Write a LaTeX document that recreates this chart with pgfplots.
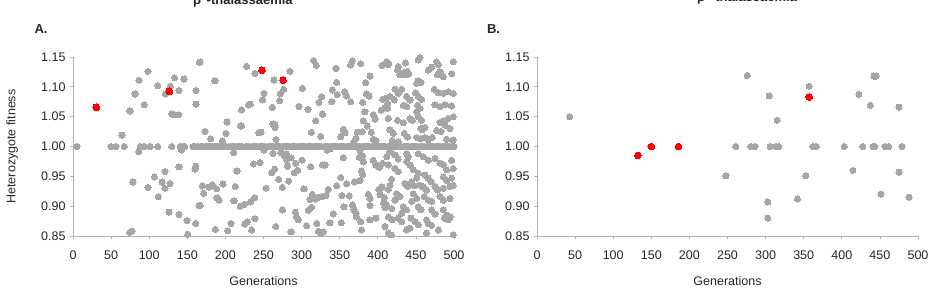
\documentclass[border=0pt]{standalone}
\usepackage{pgfplots}
\pgfplotsset{compat=1.18}
\usepackage{fontspec}
\setmainfont{Liberation Sans}
\definecolor{dotgray}{HTML}{A6A6A6}
\definecolor{axgray}{HTML}{B0B0B0}
\definecolor{txt}{HTML}{262626}
\pgfplotsset{
  panel/.style={
    scale only axis, width=381pt, height=179pt,
    xmin=0, xmax=500, ymin=0.85, ymax=1.15,
    axis x line*=bottom, axis y line*=left,
    axis line style={-, draw=axgray, line width=0.8pt},
    xtick={0,50,100,150,200,250,300,350,400,450,500},
    ytick={0.85,0.90,0.95,1.00,1.05,1.10,1.15},
    tick align=outside, major tick length=3pt,
    tick style={draw=axgray, line width=0.8pt},
    yticklabel style={/pgf/number format/fixed, /pgf/number format/fixed zerofill, /pgf/number format/precision=2, xshift=-1pt},
    /pgf/number format/assume math mode=true,
    tick label style={font=\fontsize{12.5}{15}\selectfont, text=txt},
    xticklabel style={yshift=-8.5pt},
    label style={font=\fontsize{12.5}{15}\selectfont, text=txt},
    xlabel={Generations},
    xlabel style={at={(axis description cs:0.5,-0.250)}, anchor=center},
    clip=false,
  },
  gdot/.style={only marks, color=dotgray, mark=*, mark size=3.1pt, mark options={draw=dotgray, fill=dotgray, line width=0pt}},
  rdot/.style={only marks, color=red, mark=*, mark size=3.4pt, mark options={draw=red, fill=red, line width=0pt}},
}
\begin{document}
\begin{tikzpicture}
\useasboundingbox (0pt,0pt) rectangle (937pt,292pt);
\begin{axis}[panel, at={(73pt,56pt)}, anchor=south west,
  ylabel={Heterozygote fitness},
  ylabel style={at={(axis description cs:-0.160,0.5)}, anchor=center}]
% band at 1.00
\addplot[gdot] coordinates {
(168,1.00)(171,1.00)(174,1.00)(177,1.00)(180,1.00)(183,1.00)(186,1.00)(189,1.00)(192,1.00)(195,1.00)
(198,1.00)(201,1.00)(204,1.00)(207,1.00)(210,1.00)(213,1.00)(216,1.00)(219,1.00)(222,1.00)
(227,1.00)(230,1.00)(233,1.00)(236,1.00)(239,1.00)(242,1.00)(245,1.00)(248,1.00)(251,1.00)(254,1.00)
(257,1.00)(260,1.00)(263,1.00)(266,1.00)(269,1.00)(272,1.00)(275,1.00)(278,1.00)(281,1.00)(284,1.00)
(287,1.00)(290,1.00)(293,1.00)(296,1.00)(299,1.00)(302,1.00)(305,1.00)(308,1.00)(311,1.00)(314,1.00)
(317,1.00)(320,1.00)(323,1.00)(326,1.00)(329,1.00)(332,1.00)(335,1.00)(338,1.00)(341,1.00)(344,1.00)
(347,1.00)(350,1.00)(353,1.00)(356,1.00)(359,1.00)(362,1.00)(365,1.00)(368,1.00)(371,1.00)(374,1.00)
(377,1.00)(380,1.00)(383,1.00)(386,1.00)(389,1.00)(392,1.00)(395,1.00)(398,1.00)(401,1.00)(404,1.00)
(407,1.00)(410,1.00)(413,1.00)(416,1.00)(419,1.00)(422,1.00)(425,1.00)(428,1.00)(431,1.00)(434,1.00)
(437,1.00)(440,1.00)(443,1.00)(446,1.00)(449,1.00)(452,1.00)(455,1.00)(458,1.00)(461,1.00)(464,1.00)
(467,1.00)(470,1.00)(473,1.00)(476,1.00)(479,1.00)(482,1.00)(485,1.00)(488,1.00)(491,1.00)(494,1.00)
(497,1.00)(500,1.00)
};
% scattered gray points
\addplot[gdot] coordinates {
(5.2,1.00)(49.9,1.00)(56.4,1.00)(67.4,1.00)
(64.3,1.019)(74.8,1.0595)(78.7,0.9405)(74.4,0.856)(77.4,0.858)
(81.4,1.088)(86.6,1.111)(86.2,0.991)
(88.4,1.00)(93.6,1.00)(101.5,1.00)(111.1,1.00)
(93.6,1.070)(98.4,1.126)(98.4,0.9315)(106.8,0.949)(111.1,1.102)(112,0.916)
(116.8,0.9405)(120.7,0.958)(120.7,0.930)(121.6,1.088)(126,0.890)(127.7,1.101)(127.3,0.938)
(129.5,1.00)(129.9,1.0545)(133.4,1.053)(138.7,1.053)(133.4,1.115)(139.1,1.094)(139.1,0.966)(139.1,0.886)
(140.9,1.00)(144.4,1.00)(146.6,1.00)(142.6,0.994)(145.7,1.113)(149.6,0.876)(150.5,0.853)
(157.5,1.00)(160.5,1.00)(164.5,1.00)(161.4,1.094)(161.4,1.071)(161,0.967)(160,0.962)(161,0.871)(165.8,1.141)(165.4,0.901)
(166.7,1.1416)(186.3,1.110)(227.9,1.1344)(238.8,1.1226)(263.8,1.1114)(284.8,1.126)(315.8,1.144)(319.3,1.136)
(250.6,1.089)(248.9,1.078)(276.4,1.0958)(272.1,1.0886)(271.2,1.0768)(261.6,1.0656)(301,1.0975)(296.6,1.0668)
(308.4,1.0623)(322.8,1.074)(327.2,1.0545)(318.4,1.0433)(312.8,1.0237)
(232.7,1.071)(230.5,1.0695)(221.3,1.0612)(202.1,1.041)(220,1.0344)(221.3,1.0344)(263.3,1.036)(265.1,1.036)(262.5,1.038)(265.1,1.032)
(243.6,1.023)(246.7,1.024)(266.4,1.012)(200.8,1.0215)(173.2,1.0254)(180.7,1.013)(196,1.0092)
(210.8,0.9897)(236.6,0.9707)(245.4,0.973)(262.5,0.9885)(272.9,0.9897)(250.6,0.994)
(278,0.983)(280.5,0.978)(280,0.988)(286.5,0.981)(281.5,0.967)
(292.2,0.972)(290.4,0.956)(294.8,0.960)(300.5,0.977)(311.9,0.966)(327.6,0.969)(264.6,0.962)(260.7,0.956)(215.2,0.959)
(169.7,0.9338)(178.5,0.932)(183.3,0.9355)(171.5,0.9215)(188.5,0.929)(191.6,0.91)(189,0.914)(196.8,0.937)(213,0.933)
(253.3,0.930)(274.7,0.9315)(283,0.942)(269.9,0.945)(303.1,0.929)
(314,0.920)(317.5,0.912)(322.8,0.915)(326.3,0.916)(311,0.911)(313,0.898)(308.8,0.893)
(167.1,0.9014)(211.3,0.909)(219.6,0.900)(224.8,0.903)(232.7,0.907)(238.4,0.914)(274.7,0.8936)(291.8,0.890)(293.1,0.882)(295.7,0.877)(238.8,0.879)
(207.3,0.871)(203,0.859)(186.8,0.861)(225.3,0.870)(228.8,0.874)(234.5,0.860)(266,0.866)(286.1,0.857)(306.6,0.867)(319.8,0.871)(325.4,0.854)(321.9,0.858)
(345.1,1.131)(364.3,1.1366)(366.5,1.1433)(377.5,1.139)(405.5,1.1355)(414.2,1.1394)(389.7,1.118)(346,1.1075)(384,1.107)
(340.3,1.0947)(346.8,1.087)(356.5,1.092)(359.1,1.0846)(364.3,1.075)(339.8,1.075)(326.3,1.0835)(380.1,1.074)(385.3,1.088)
(388.8,1.0846)(406.3,1.079)(411.6,1.081)(404.6,1.061)(409.4,1.0656)
(327.6,1.054)(383.1,1.058)(394.1,1.053)(396.7,1.046)(413.8,1.047)(381,1.043)(386.2,1.0343)(391.5,1.024)(373.1,1.024)
(379.6,1.025)(354.7,1.0288)(356.9,1.023)(351.2,1.0165)(394,1.012)(397.6,1.010)(371.3,1.013)(367.8,1.006)(325,1.017)
(337.2,0.996)(333.7,0.994)(376.6,0.993)(380.1,0.984)(375.7,0.982)(381,0.974)(394,0.977)(397.6,0.969)(402,0.965)(406.3,0.972)
(354.7,0.981)(330.7,0.969)(378.8,0.959)(380.1,0.953)(351.2,0.948)(359.1,0.9377)(369.6,0.9405)(346,0.934)(335,0.928)(332,0.918)
(326.3,0.916)(353,0.918)(362.6,0.917)(376.6,0.943)(387.5,0.920)(389.7,0.9125)(389.7,0.901)
(401,0.928)(405.5,0.932)(403,0.919)(408.4,0.914)(407.5,0.905)(409.4,0.898)(414,0.928)
(355.6,0.899)(367,0.902)(368.7,0.894)(371.3,0.888)(372.2,0.882)(341.6,0.887)(337.2,0.872)(352.1,0.872)(377.5,0.874)
(378.8,0.860)(389.7,0.877)(397.6,0.880)(409.4,0.866)(328.5,0.857)
(411.6,1.142)(413.8,1.137)(426.9,1.134)(436.5,1.14)(453.1,1.145)(455.3,1.149)
(435,1.12)(438.5,1.126)(440.5,1.122)(437,1.12)(434.5,1.124)(426,1.128)(429,1.12)
(453,1.11)(456.6,1.107)(451,1.106)
(466.3,1.128)(470.6,1.133)(477.2,1.142)(479.4,1.137)(481.6,1.125)(478.5,1.12)(486,1.117)(499,1.142)(496.9,1.122)
(422.5,1.096)(426.9,1.089)(431.3,1.096)(416,1.084)(421.6,1.078)(437.8,1.084)(442.2,1.078)
(449.6,1.09)(453.1,1.084)(457.5,1.079)(474.1,1.096)(479.4,1.09)(486,1.089)(492.5,1.092)(499,1.089)
(475,1.07)(481.6,1.067)(488.1,1.07)(496.9,1.068)(413,1.072)(413,1.064)
(433.5,1.069)(437.8,1.067)(452.3,1.069)(455.3,1.064)(451,1.058)
(442.2,1.047)(445.3,1.044)(453.1,1.05)(457.5,1.044)(426,1.044)(433.5,1.04)
(456.6,1.030)(458.4,1.028)(461.9,1.032)
(481.6,1.04)(486,1.043)(488.1,1.036)(492.5,1.047)(499,1.05)(494.7,1.03)(477.2,1.027)(482.9,1.025)
(416,1.028)(420.3,1.022)(434.8,1.022)(439.1,1.016)
(451,1.015)(456.6,1.013)(461.9,1.015)(466.3,1.011)(471.5,1.015)(490.3,1.012)(499,1.011)(419,1.01)(426.9,1.008)
(416,0.991)(422.5,0.986)(426.9,0.979)(437.8,0.988)(440,0.983)(437.8,0.975)(442.2,0.969)
(453.1,0.988)(459.7,0.983)(466.3,0.977)
(475,0.98)(481.6,0.972)(486,0.969)(490.3,0.961)(496.9,0.977)(499,0.963)(411.6,0.983)(413.8,0.969)
(422.5,0.963)(426.9,0.958)(446.6,0.961)(453.1,0.955)(451,0.947)
(461.9,0.952)(466.3,0.947)(469.8,0.941)(486,0.949)(490.3,0.943)(496.9,0.947)(418.1,0.945)(416,0.935)
(435.6,0.938)(439.1,0.933)(444.4,0.941)(447.9,0.934)(455.3,0.935)(459.7,0.932)(464.1,0.927)
(475,0.933)(478.5,0.927)(486,0.93)(494.7,0.933)(499,0.935)
(424.7,0.921)(429.1,0.916)(422.5,0.91)(446.6,0.921)(451,0.913)(444.4,0.908)
(461,0.916)(466.3,0.91)(470.6,0.908)(481.6,0.916)(486,0.91)(494.7,0.913)
(411.6,0.902)(418.1,0.896)(433.5,0.899)(437.8,0.894)(431.3,0.888)(453.1,0.899)(456.6,0.894)
(470.6,0.894)(475,0.887)(486,0.894)(490.3,0.885)(494.7,0.882)(492.5,0.877)(487.3,0.88)
(413.8,0.882)(419,0.877)(426.9,0.88)(431.3,0.874)(443.5,0.88)(448.8,0.874)(453.1,0.869)
(464.1,0.877)(466.3,0.871)(470.6,0.868)(437.8,0.86)(442.2,0.863)(464.1,0.855)(479.4,0.86)
(413.8,0.855)(417.3,0.852)(499,0.852)
};
\addplot[rdot] coordinates {(30.6,1.0656)(126.4,1.0925)(248,1.1277)(275.6,1.1114)};
\end{axis}

\begin{axis}[panel, at={(537pt,56pt)}, anchor=south west]
\addplot[gdot] coordinates {
(42.9,1.050)(248,0.951)(260.7,1.00)(276,1.119)(280.5,1.00)(286.2,1.00)
(304.6,1.085)(302.8,0.907)(302.8,0.880)(305.9,1.00)(313.3,1.00)(317.3,1.00)(315.1,1.044)
(341.8,0.912)(352.8,0.951)(357.1,1.101)(362,1.00)(366.4,1.00)(403.2,1.00)(414.5,0.960)
(422.4,1.0875)(427.3,1.00)(437.3,1.069)(440.8,1.00)(443,1.00)(442.1,1.118)(445.2,1.118)
(451.4,0.920)(456.6,1.00)(461.4,1.00)(475,1.066)(475,0.957)(479,1.00)(488.2,0.915)
};
\addplot[rdot] coordinates {(132.3,0.985)(149.9,1.000)(185.8,1.000)(357.1,1.083)};
\end{axis}

\node[font=\fontsize{13}{15}\selectfont\bfseries, text=txt, anchor=center] at (41pt,262.5pt) {A.};
\node[font=\fontsize{13}{15}\selectfont\bfseries, text=txt, anchor=center] at (493.5pt,262.5pt) {B.};
\node[font=\fontsize{13}{15}\selectfont\bfseries, text=txt, anchor=base west, inner sep=0pt] at (193pt,287pt) {β\textsuperscript{0}-thalassaemia};
\node[font=\fontsize{13}{15}\selectfont\bfseries, text=txt, anchor=base west, inner sep=0pt] at (697pt,290.5pt) {β\textsuperscript{+}-thalassaemia};
\end{tikzpicture}
\end{document}
